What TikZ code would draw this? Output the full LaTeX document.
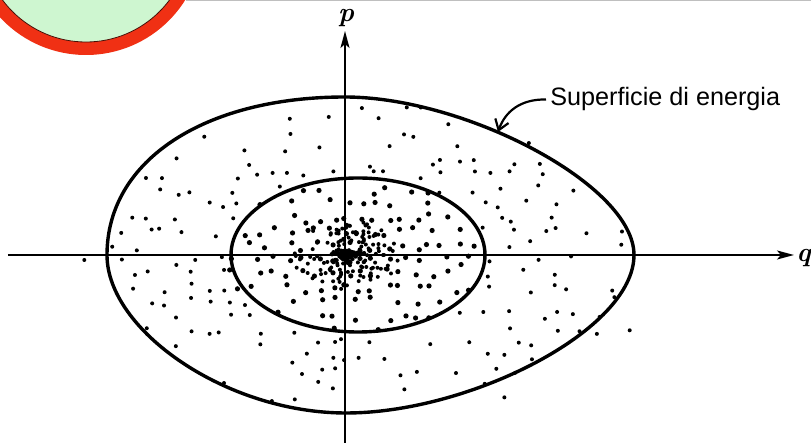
\documentclass[tikz,border=0pt]{standalone}
\usepackage{fontspec}
\setsansfont{Liberation Sans}
\usetikzlibrary{arrows.meta,positioning}
\definecolor{ringred}{RGB}{240,48,20}
\definecolor{discgreen}{RGB}{206,246,208}
\tikzset{
  axis/.style={line width=1pt,-{Stealth[length=8.5pt,width=4.5pt,inset=2pt]}},
  level/.style={line width=1.7pt},
  labarrow/.style={line width=1.1pt,-{Straight Barb[length=5pt,width=7pt]}},
  dot/.style={fill=black}
}
\begin{document}
\begin{tikzpicture}[x=0.5pt,y=-0.5pt]
	\useasboundingbox (0,0) rectangle (811,443);
	\begin{scope}
		\clip (0,0) rectangle (811,443);
		\fill[ringred] (86,-62) circle[radius=58.5pt];
		\draw[fill=discgreen,draw=black!70!ringred,line width=0.4pt] (86,-62) circle[radius=52pt];
	\end{scope}
	\draw[black!25,line width=0.4pt] (186,0.6) -- (811,0.6);
	\coordinate (O) at (345,255);
	\coordinate (qstart) at (8,255);
	\coordinate (qend) at (794,255);
	\coordinate (pstart) at (345,445);
	\coordinate (pend) at (345,31);
	\coordinate (tip) at (498,132);
	\pgfmathsetseed{2718}
	\foreach \gx in {0,...,41}{
		\foreach \gy in {0,...,25}{
			\pgfmathsetmacro{\px}{80+14*\gx+10*(rnd-0.5)}
			\pgfmathsetmacro{\py}{78+14*\gy+10*(rnd-0.5)}
			\pgfmathsetmacro{\nx}{(\px-345)/((\px>345) ? 287 : 238)}
			\pgfmathsetmacro{\ny}{(\py-255)/158}
			\pgfmathsetmacro{\rad}{sqrt(\nx*\nx+\ny*\ny)}
			\pgfmathsetmacro{\prob}{max(0.27,min(1,0.23/max(\rad,0.01)))*(\rad<0.98 ? 1 : (\rad<1.12 ? 0.12 : 0))}
			\pgfmathtruncatemacro{\keep}{rnd<\prob ? 1 : 0}
			\pgfmathsetmacro{\ds}{\rad<0.5 ? 1.3 : 1.0}
			\ifnum\keep=1 \fill[dot] (\px,\py) circle[radius=\ds pt];\fi
		}
	}
	\foreach \i in {1,...,170}{
		\pgfmathsetmacro{\rad}{0.22*rnd}
		\pgfmathsetmacro{\ang}{360*rnd}
		\fill[dot] ({345+250*\rad*cos(\ang)},{255+158*\rad*sin(\ang)}) circle[radius=1pt];
	}
	\fill[dot] (O) circle[radius=3.2pt];
	\draw[level] (358,255) ellipse[x radius=127,y radius=77];
	\draw[level] (107,255) .. controls (107,160) and (205,97) .. (345,97)
		.. controls (465,97) and (634,185) .. (634,255)
		.. controls (634,330) and (470,413) .. (346,413)
		.. controls (226,413) and (107,330) .. (107,255) -- cycle;
	\draw[axis] (qstart) -- (qend);
	\draw[axis] (pstart) -- (pend);
	\node[anchor=west,inner sep=0pt,font=\fontsize{13.5}{16}\selectfont\bfseries\itshape] (qlab) at (796,258) {q};
	\node[anchor=south,inner sep=0pt,font=\fontsize{13.5}{16}\selectfont\bfseries\itshape] (plab) at (346,27) {p};
	\node[anchor=base west,inner sep=0pt,font=\sffamily\fontsize{12.6}{15}\selectfont] (lbl) at (550,106) {Superficie di energia};
	\draw[labarrow] ([xshift=-2pt]lbl.west) .. controls (520,99) and (505,112) .. (tip);
\end{tikzpicture}
\end{document}
